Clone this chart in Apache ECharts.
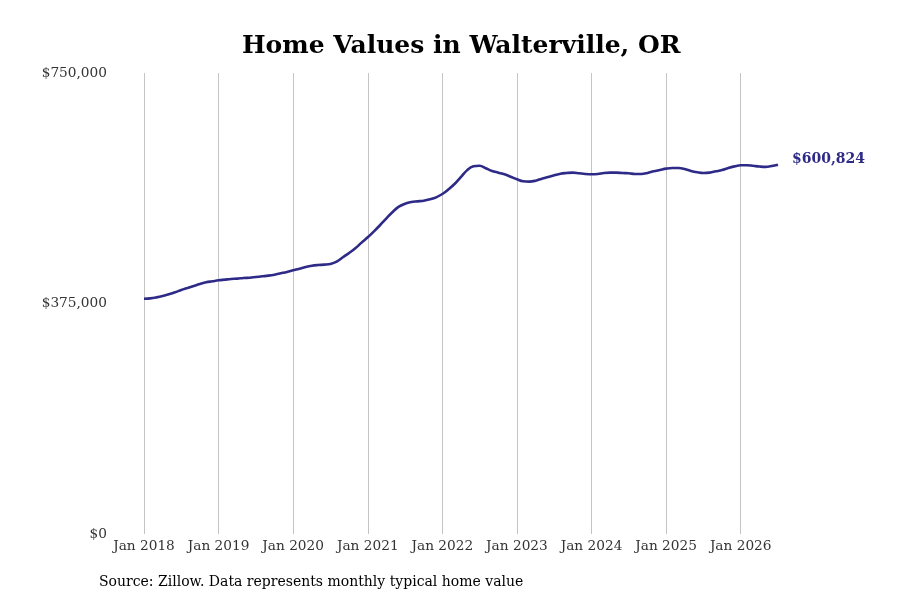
<!DOCTYPE html>
<html>
<head>
<meta charset="utf-8">
<script src="https://cdn.jsdelivr.net/npm/echarts@6/dist/echarts.min.js"></script>
<style>html,body{margin:0;padding:0;background:#fff}#c{width:900px;height:600px}</style>
</head>
<body>
<div id="c"></div>
<script>
const titleText = 'Home Values in Walterville, OR';
const sourceText = 'Source: Zillow. Data represents monthly typical home value';
const startYear = 2018;
const monthCount = 103; // Jan 2018 .. Jul 2026
const months = [];
for (let i = 0; i < monthCount; i++) {
  const y = startYear + Math.floor(i / 12);
  const m = (i % 12) + 1;
  months.push(y + '-' + (m < 10 ? '0' + m : m));
}
const yTicks = [0, 375000, 750000];
const values2018 = [382800, 383400, 385000, 387200, 390000, 393200, 397000, 400200, 403500, 406700, 409500, 411100];
const values2019 = [412700, 413800, 414900, 415400, 416500, 417000, 418100, 419200, 420300, 421900, 424100, 426300];
const values2020 = [429000, 431600, 434400, 436500, 437600, 438200, 439300, 443000, 450200, 457200, 464800, 474000];
const values2021 = [482700, 492400, 502700, 513600, 523900, 532500, 537400, 540100, 541200, 542300, 544500, 547700];
const values2022 = [553100, 560800, 569800, 581000, 592000, 598200, 599200, 595000, 590600, 587900, 585200, 581300];
const values2023 = [577100, 573800, 573200, 574800, 578100, 580800, 583600, 586200, 587300, 587900, 586800, 585700];
const values2024 = [585200, 585700, 587300, 587900, 587900, 587300, 586800, 585700, 585700, 587300, 590000, 592200];
const values2025 = [594400, 595500, 595500, 593800, 590600, 588500, 587300, 587900, 590000, 592200, 595500, 598100];
const values2026 = [600000, 600000, 599000, 597900, 597300, 598600, 600824];
const homeValues = [].concat(values2018, values2019, values2020, values2021, values2022, values2023, values2024, values2025, values2026);

const lineColor = '#2e2a87';
const font = 'DejaVu Serif';
const chart = echarts.init(document.getElementById('c'));
chart.setOption({
  backgroundColor: '#fff',
  animation: false,
  title: {
    text: titleText,
    left: 237, top: 29,
    textStyle: { fontFamily: font, fontSize: 25, fontWeight: 'bold', color: '#000' }
  },
  grid: { left: 144, right: 122, top: 73, bottom: 66, containLabel: false },
  xAxis: {
    type: 'category',
    data: months,
    boundaryGap: false,
    axisLine: { show: false },
    axisTick: { show: false },
    axisLabel: {
      interval: (idx) => idx % 12 === 0,
      formatter: (v) => 'Jan ' + v.slice(0, 4),
      margin: 5,
      fontFamily: font, fontSize: 13.7, color: '#333'
    },
    splitLine: {
      show: true,
      interval: (idx) => idx % 12 === 0,
      lineStyle: { color: '#c4c4c4', width: 1 }
    }
  },
  yAxis: {
    type: 'value',
    min: yTicks[0], max: yTicks[yTicks.length - 1], interval: yTicks[1] - yTicks[0],
    axisLine: { show: false },
    axisTick: { show: false },
    splitLine: { show: false },
    axisLabel: {
      formatter: (v) => '$' + v.toLocaleString('en-US'),
      margin: 37,
      fontFamily: font, fontSize: 13.7, color: '#333'
    }
  },
  series: [{
    type: 'line',
    data: homeValues,
    smooth: 0.4,
    symbol: 'none',
    lineStyle: { color: lineColor, width: 2.6 },
    endLabel: {
      show: true,
      formatter: (p) => '$' + p.value.toLocaleString('en-US'),
      distance: 14,
      offset: [0, -5],
      fontFamily: font, fontSize: 14, fontWeight: 'bold', color: lineColor
    }
  }],
  graphic: [{
    type: 'text',
    left: 99, top: 575,
    style: { text: sourceText, fontFamily: font, fontSize: 14, fill: '#000' }
  }]
});
</script>
</body>
</html>
